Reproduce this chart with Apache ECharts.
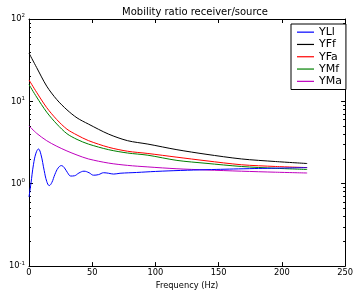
<!DOCTYPE html>
<html>
<head>
<meta charset="utf-8">
<script src="https://cdn.jsdelivr.net/npm/echarts@6/dist/echarts.min.js"></script>
<style>
  html, body { margin: 0; padding: 0; background: #fff; }
  #chart { width: 356px; height: 295px; }
</style>
</head>
<body>
<div id="chart"></div>
<script>
// frequencies (Hz) for the smooth curves
var freqs = [0, 6, 14, 22, 30, 38, 47, 63, 78, 94, 117, 140, 168, 195, 220];
var yFf = [38.5, 25.8, 15.3, 10.5, 7.9, 6.3, 5.3, 4.0, 3.33, 3.03, 2.59, 2.28, 2.0, 1.86, 1.76];
var yFa = [18.2, 12.9, 8.4, 6.0, 4.6, 3.9, 3.34, 2.77, 2.48, 2.33, 2.1, 1.9, 1.7, 1.62, 1.57];
var yMf = [16, 11.3, 7.4, 5.3, 4.05, 3.45, 3.03, 2.59, 2.36, 2.22, 1.92, 1.77, 1.62, 1.54, 1.49];
var yMa = [5.04, 4.1, 3.33, 2.85, 2.5, 2.23, 2.0, 1.78, 1.67, 1.6, 1.52, 1.47, 1.42, 1.38, 1.35];

// the oscillating curve has its own frequency points
var freqsL = [0, 1.5, 3.5, 5.5, 7.5, 9.5, 12, 14, 16, 18, 20.5, 23, 25.6, 28, 30.5, 33, 36, 39.5, 43.5, 47.5, 51, 55, 59, 63, 67, 72, 85, 100, 120, 140, 170, 200, 220];
var yLl = [0.69, 1.0, 1.7, 2.35, 2.64, 2.25, 1.45, 1.07, 0.95, 1.03, 1.3, 1.55, 1.66, 1.56, 1.36, 1.24, 1.25, 1.35, 1.42, 1.36, 1.27, 1.29, 1.36, 1.34, 1.31, 1.34, 1.37, 1.41, 1.45, 1.48, 1.52, 1.55, 1.57];

var seriesNames = ['YLl', 'YFf', 'YFa', 'YMf', 'YMa'];
var seriesColors = ['#0000ff', '#000000', '#ff0000', '#008000', '#bf00bf'];
var minorY = [0.2, 0.3, 0.4, 0.5, 0.6, 0.7, 0.8, 0.9, 2, 3, 4, 5, 6, 7, 8, 9, 20, 30, 40, 50, 60, 70, 80, 90];

function pairs(xs, ys) {
  return xs.map(function (x, i) { return [x, ys[i]]; });
}

var allData = [pairs(freqsL, yLl), pairs(freqs, yFf), pairs(freqs, yFa), pairs(freqs, yMf), pairs(freqs, yMa)];

var font = 'DejaVu Sans';
var chart = echarts.init(document.getElementById('chart'));

function xAx(pos, showLabel) {
  return {
    type: 'value', position: pos, min: 0, max: 250, interval: 50,
    axisLine: { show: true, onZero: false, lineStyle: { color: '#000', width: 1 } },
    axisTick: { show: true, inside: true, length: 4, lineStyle: { color: '#000' } },
    axisLabel: { show: showLabel, color: '#000', fontFamily: font, fontSize: 8.3, margin: 3 },
    splitLine: { show: false },
    name: showLabel ? 'Frequency (Hz)' : '',
    nameLocation: 'middle', nameGap: 14,
    nameTextStyle: { color: '#000', fontFamily: font, fontSize: 8.3 }
  };
}

function yAx(pos, showLabel, minor) {
  var ax = {
    type: 'log', logBase: 10, position: pos, min: 0.1, max: 100,
    axisLine: { show: !minor, onZero: false, lineStyle: { color: '#000', width: 1 } },
    axisTick: { show: true, inside: true, length: minor ? 2 : 4, lineStyle: { color: '#000' } },
    axisLabel: {
      show: showLabel, margin: 4,
      formatter: function (v) {
        var e = Math.round(Math.log10(v));
        return '{b|10}{s|' + e + '}';
      },
      rich: {
        b: { color: '#000', fontFamily: font, fontSize: 8.3 },
        s: { color: '#000', fontFamily: font, fontSize: 5.5, verticalAlign: 'top', padding: [0, 0, 6, 0] }
      }
    },
    splitLine: { show: false }
  };
  if (minor) {
    ax.axisTick.customValues = minorY;
    ax.axisLabel.show = false;
  }
  return ax;
}

var option = {
  backgroundColor: '#fff',
  animation: false,
  title: {
    text: 'Mobility ratio receiver/source',
    left: 190, top: 2, textAlign: 'center',
    textStyle: { color: '#000', fontFamily: font, fontSize: 10, fontWeight: 'normal' }
  },
  legend: {
    orient: 'vertical', left: 291, top: 24,
    data: seriesNames,
    icon: 'rect', itemWidth: 17, itemHeight: 1.2,
    itemGap: 0,
    padding: [2, 4, 2, 6],
    borderColor: '#000', borderWidth: 1, backgroundColor: '#fff',
    textStyle: { color: '#000', fontFamily: font, fontSize: 11, lineHeight: 12.3, padding: [0, 0, 0, 0] }
  },
  grid: { left: 29, right: 5, top: 19, bottom: 27, containLabel: false },
  xAxis: [xAx('bottom', true), xAx('top', false)],
  yAxis: [yAx('left', true, false), yAx('right', false, false), yAx('left', false, true), yAx('right', false, true)],
  series: seriesNames.map(function (n, i) {
    return {
      name: n, type: 'line', data: allData[i],
      xAxisIndex: 0, yAxisIndex: 0,
      smooth: i === 0 ? 0.4 : 0.3, showSymbol: false, symbol: 'none',
      color: seriesColors[i],
      lineStyle: { color: seriesColors[i], width: 1 },
      z: 5 - i
    };
  })
};

chart.setOption(option);
</script>
</body>
</html>
